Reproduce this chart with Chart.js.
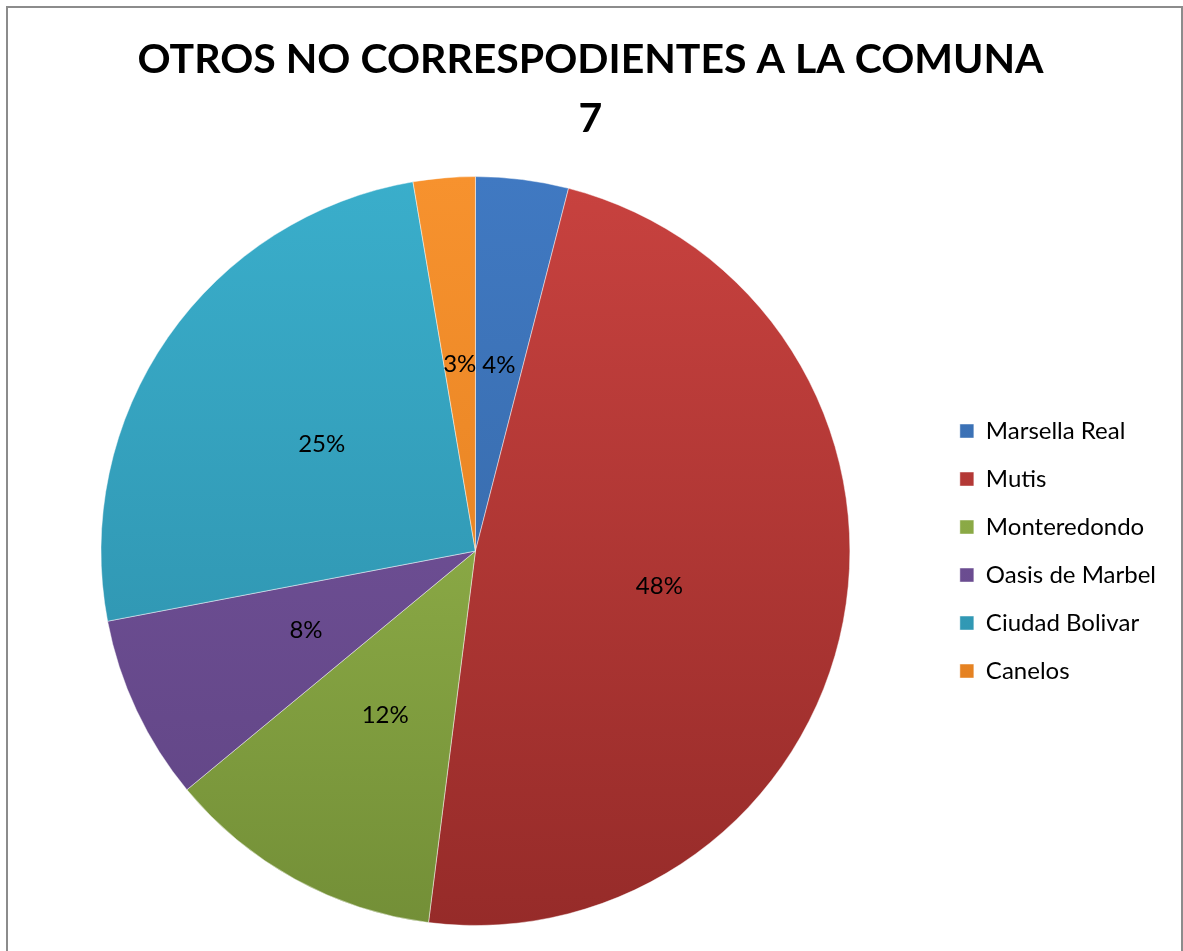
<!DOCTYPE html>
<html>
<head>
<meta charset="utf-8">
<script src="https://cdn.jsdelivr.net/npm/chart.js@4.4.1/dist/chart.umd.min.js"></script>
<style>
  html, body { margin: 0; padding: 0; background: #fff; overflow: hidden; }
  #wrap { position: relative; width: 1183px; height: 951px; }
  #frame { position: absolute; left: 6px; top: 6px; width: 1173px; height: 960px;
           border: 2px solid #8c8c8c; pointer-events: none; }
</style>
</head>
<body>
<div id="wrap">
  <canvas id="pie" width="1183" height="951"></canvas>
  <div id="frame"></div>
</div>
<script>
const titleLines = ['OTROS NO CORRESPODIENTES A LA COMUNA', '7'];
const barrios = ['Marsella Real', 'Mutis', 'Monteredondo', 'Oasis de Marbel', 'Ciudad Bolivar', 'Canelos'];
const cantidades = [3, 36, 9, 6, 19, 2];
// light (top) / dark (bottom) shade for each slice
const tonoClaro = ['#4079c2', '#c8423f', '#9fc052', '#7856a0', '#3aaecb', '#f7922e'];
const tonoOscuro = ['#33639e', '#962b29', '#738f37', '#5f4483', '#2b8aa5', '#dc7a1c'];

const total = cantidades.reduce((a, b) => a + b, 0);

function sliceFill(ctx) {
    const area = ctx.chart.chartArea;
    if (!area) return tonoClaro[ctx.dataIndex];
    const g = ctx.chart.ctx.createLinearGradient(0, area.top, 0, area.bottom);
    g.addColorStop(0, tonoClaro[ctx.dataIndex]);
    g.addColorStop(1, tonoOscuro[ctx.dataIndex]);
    return g;
}

const percentLabels = {
    id: 'percentLabels',
    afterDatasetsDraw(chart) {
        const ctx = chart.ctx;
        const meta = chart.getDatasetMeta(0);
        ctx.save();
        ctx.font = '24px Lato';
        ctx.fillStyle = '#000';
        ctx.textAlign = 'center';
        ctx.textBaseline = 'middle';
        meta.data.forEach((arc, i) => {
            const p = arc.getProps(['x', 'y', 'startAngle', 'endAngle', 'outerRadius'], true);
            const mid = (p.startAngle + p.endAngle) / 2;
            const r = p.outerRadius * 0.5;
            const pct = Math.round(cantidades[i] / total * 100) + '%';
            ctx.fillText(pct, p.x + Math.cos(mid) * r, p.y + Math.sin(mid) * r);
        });
        ctx.restore();
    }
};

new Chart(document.getElementById('pie'), {
    type: 'pie',
    data: {
        labels: barrios,
        datasets: [{
            data: cantidades,
            backgroundColor: sliceFill,
            borderColor: 'rgba(255,255,255,0.45)',
            borderWidth: 1
        }]
    },
    options: {
        responsive: false,
        animation: false,
        layout: { padding: { top: 30, bottom: 25, left: 15, right: 17 } },
        plugins: {
            title: {
                display: true,
                text: titleLines,
                color: '#000',
                font: { family: 'Lato', size: 41, weight: 'bold', lineHeight: 1.44 },
                padding: { top: 0, bottom: 28 }
            },
            legend: {
                position: 'right',
                fullSize: false,
                labels: {
                    color: '#000',
                    font: { family: 'Lato', size: 24 },
                    boxWidth: 14,
                    boxHeight: 14,
                    padding: 24
                }
            },
            tooltip: { enabled: false }
        }
    },
    plugins: [percentLabels]
});
</script>
</body>
</html>
